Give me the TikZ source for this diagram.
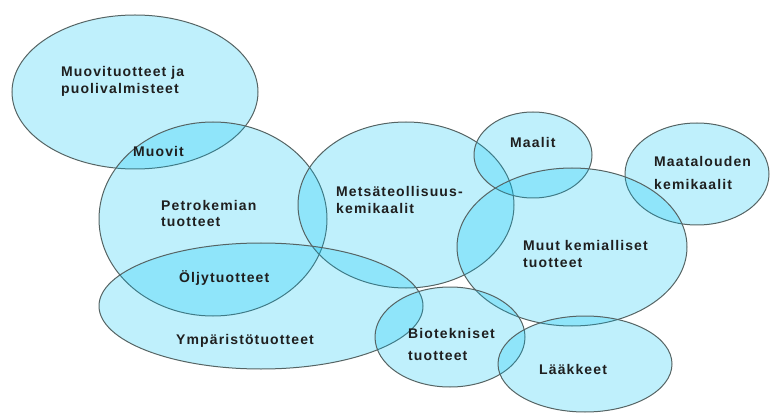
\documentclass[tikz,border=0pt]{standalone}
\usepackage{fontspec}
\setmainfont{Liberation Sans}
\newfontfamily\vennfont[LetterSpace=8]{Liberation Sans}
\usepackage{tikz}
\usetikzlibrary{shapes,positioning}
\definecolor{vennfill}{RGB}{0,195,243}
\definecolor{venndraw}{RGB}{85,100,100}
\tikzset{
    area/.style={ellipse, draw=venndraw, fill=vennfill, fill opacity=0.25, line width=1pt, inner sep=0pt},
    areatext/.style={anchor=base west, inner sep=0pt, align=left, text=black!88, font=\vennfont\bfseries\fontsize{14}{17}\selectfont}
}

\begin{document}
\begin{tikzpicture}[x=1pt, y=-1pt]
    \useasboundingbox (0,0) rectangle (771,414);

    % Product areas
    \node [area, minimum width=246pt, minimum height=154pt] (muovi) at (135,92) {};
    \node [area, minimum width=228pt, minimum height=194pt] (petro) at (213,219) {};
    \node [area, minimum width=216pt, minimum height=166pt] (metsa) at (406,205) {};
    \node [area, minimum width=118pt, minimum height=86pt] (maalit) at (533,155) {};
    \node [area, minimum width=144pt, minimum height=102pt] (maatalous) at (697,174) {};
    \node [area, minimum width=230pt, minimum height=158pt] (muut) at (572,247) {};
    \node [area, minimum width=324pt, minimum height=126pt] (ymparisto) at (261,306) {};
    \node [area, minimum width=150pt, minimum height=100pt] (bio) at (450,337) {};
    \node [area, minimum width=174pt, minimum height=96pt] (laake) at (585,364) {};

    % Labels (base = last line)
    \node [areatext] (tmuovi) at (61,94) {Muovituotteet ja\\puolivalmisteet};
    \node [areatext] (tmuovit) at (133,157) {Muovit};
    \node [areatext] (tpetro) at (161,227) {Petrokemian\\tuotteet};
    \node [areatext] (tmetsa) at (336,214) {Metsäteollisuus-\\kemikaalit};
    \node [areatext] (tmaalit) at (510,148) {Maalit};
    \node [areatext] (tmaatalous) at (654,190) {Maatalouden\\[6pt]kemikaalit};
    \node [areatext] (tmuut) at (523,267) {Muut kemialliset\\tuotteet};
    \node [areatext] (toljy) at (179,282) {Öljytuotteet};
    \node [areatext] (tymparisto) at (176,344) {Ympäristötuotteet};
    \node [areatext] (tbio) at (408,360) {Biotekniset\\[5pt]tuotteet};
    \node [areatext] (tlaake) at (539,374) {Lääkkeet};
\end{tikzpicture}
\end{document}
